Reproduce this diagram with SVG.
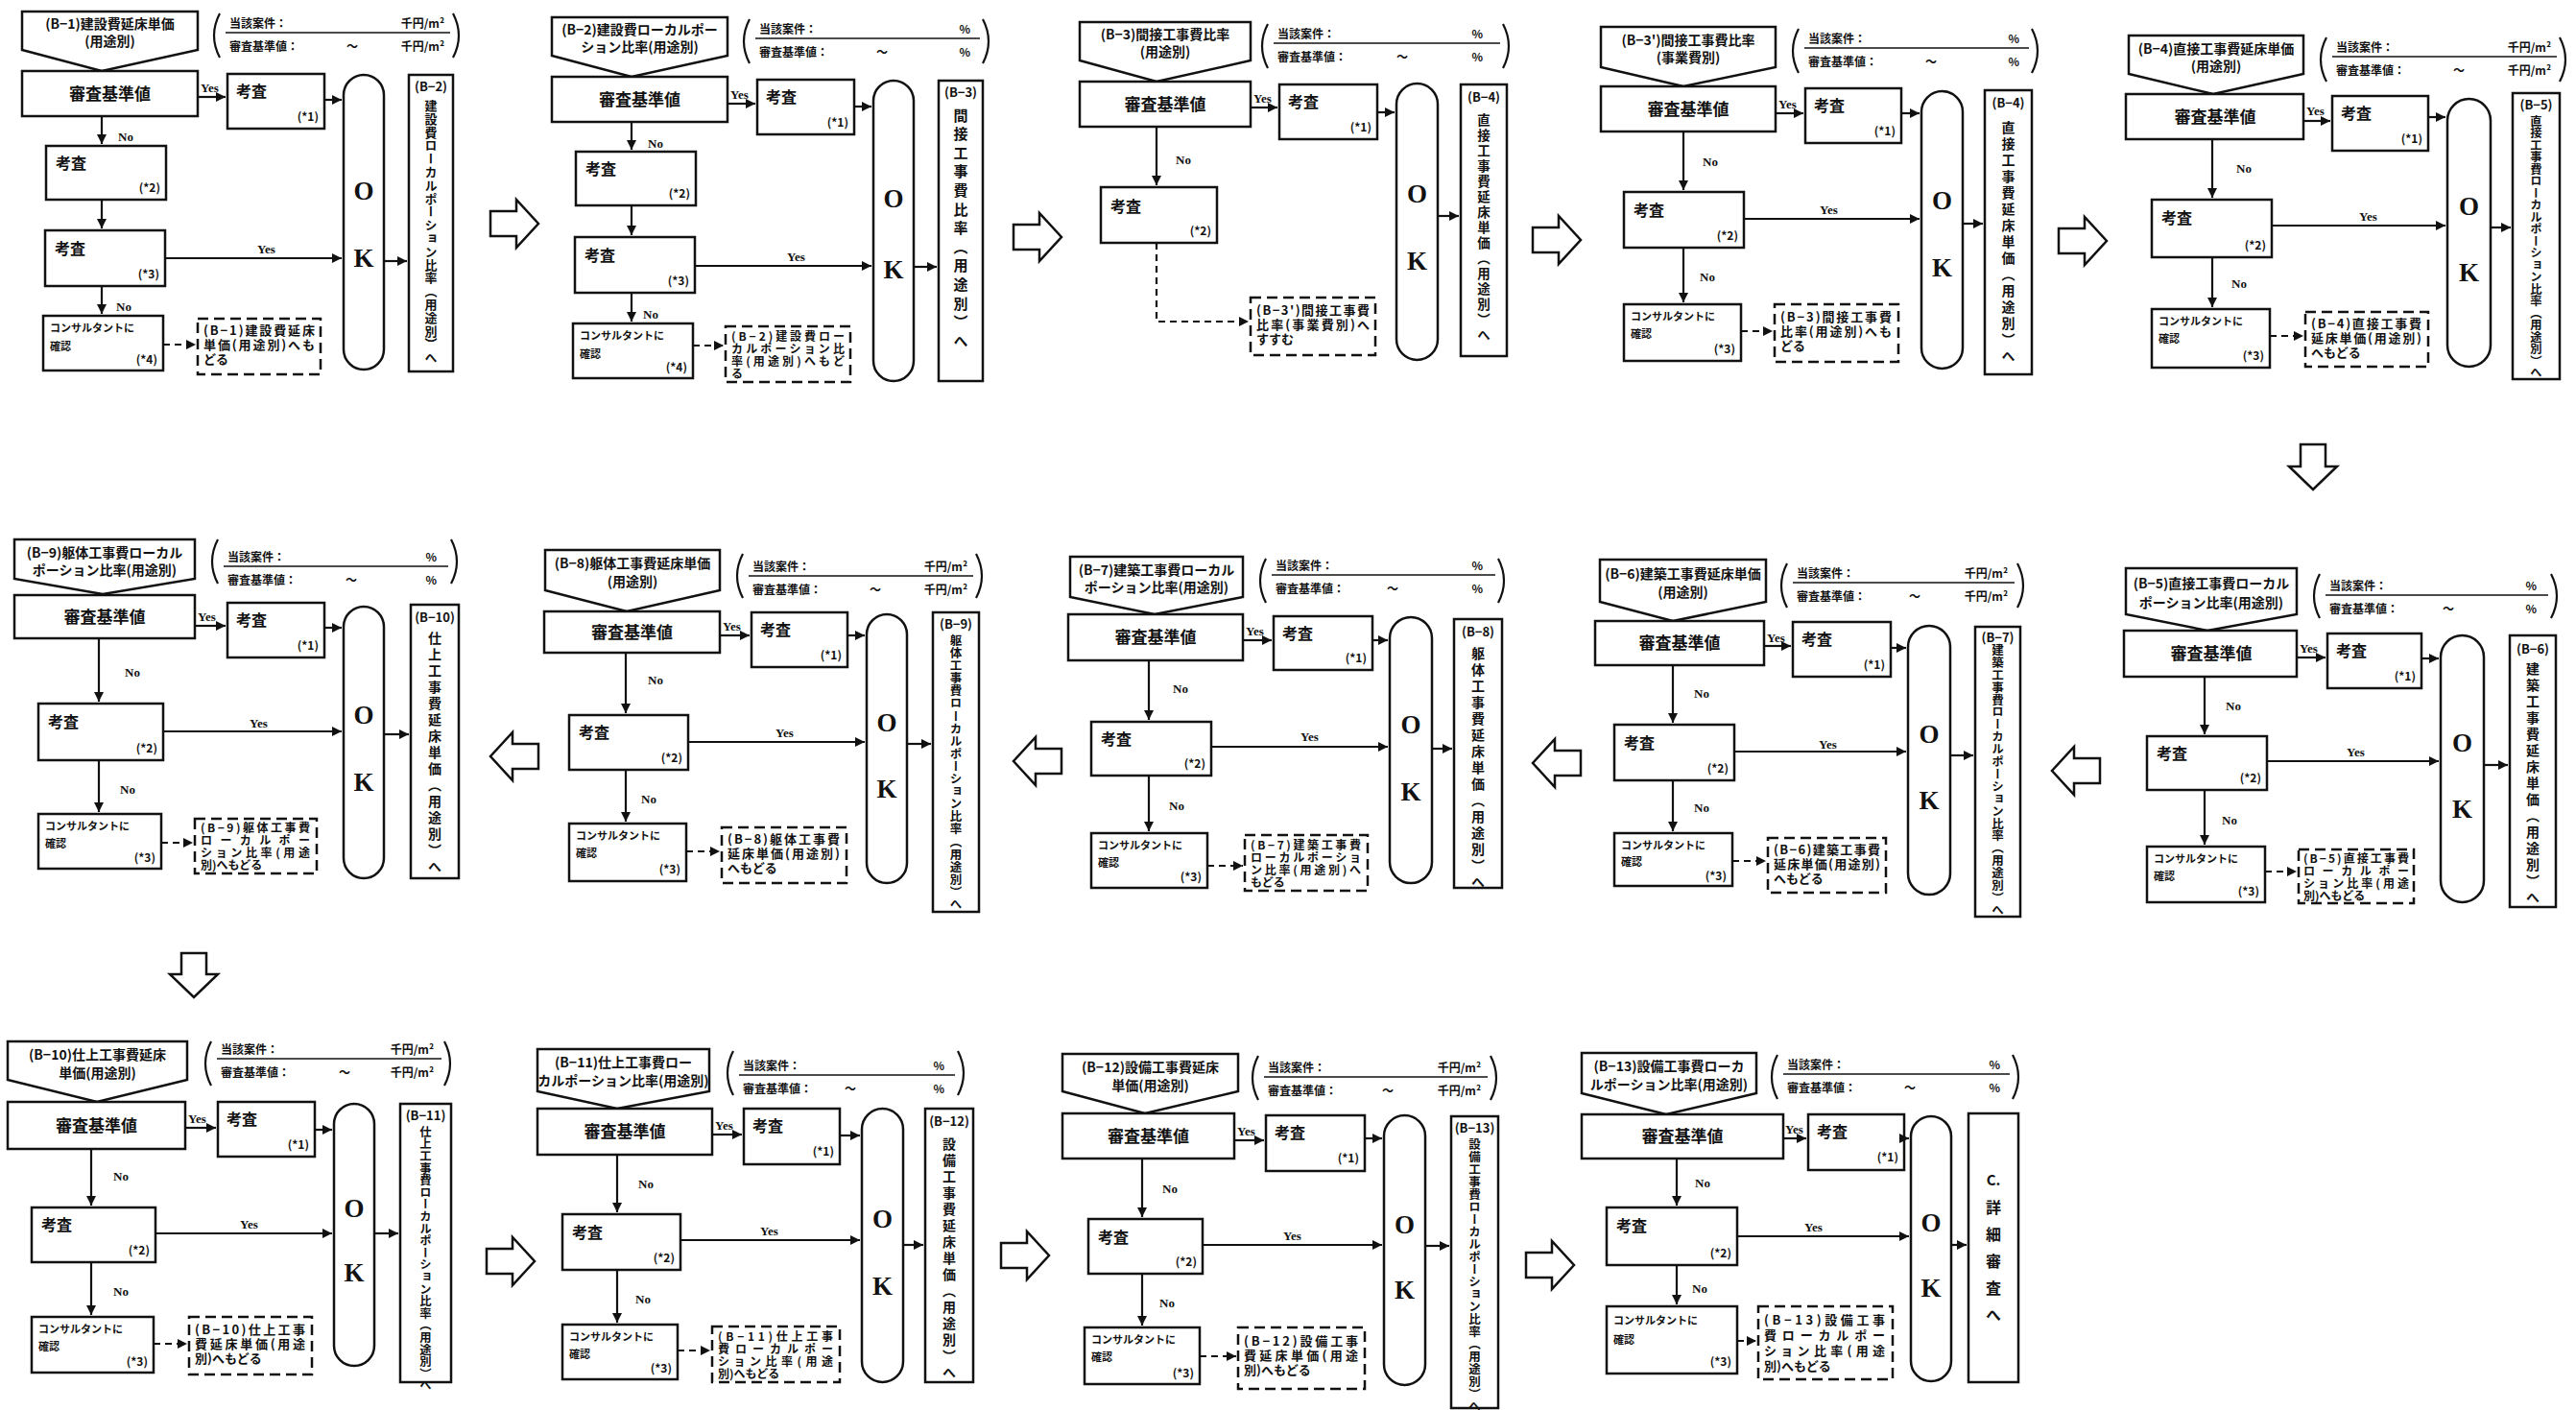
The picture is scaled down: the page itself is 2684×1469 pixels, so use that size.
<svg xmlns="http://www.w3.org/2000/svg" width="2684" height="1469" viewBox="0 0 2684 1469">
<defs>
<marker id="ah" viewBox="0 0 10 10" refX="10" refY="5" markerWidth="11" markerHeight="10" markerUnits="userSpaceOnUse" orient="auto"><path d="M0,0 L10,5 L0,10 z" fill="#111"/></marker>
<style>
.bx{fill:#fff;stroke:#111;stroke-width:2.5}
.dbx{fill:#fff;stroke:#111;stroke-width:2.5;stroke-dasharray:11 6}
.ln{fill:none;stroke:#111;stroke-width:2.2;marker-end:url(#ah)}
.dln{fill:none;stroke:#111;stroke-width:2.2;stroke-dasharray:7 5;marker-end:url(#ah)}
.br{fill:none;stroke:#111;stroke-width:2.2}
.rule{fill:none;stroke:#111;stroke-width:1.6}
.blk{fill:#fff;stroke:#111;stroke-width:2.5;stroke-linejoin:miter}
.t{font-family:"Noto Sans CJK JP","Noto Sans CJK SC",sans-serif;font-weight:700;fill:#111}
.hd{font-size:14px;text-anchor:middle}
.sv{font-size:17px;text-anchor:middle}
.kt{font-size:16px}
.nt{font-size:12px;text-anchor:end}
.ct{font-size:11px}
.rt{font-size:13px}
.rt4{font-size:12px}
.bt{font-size:12px}
.ue{text-anchor:end}
.lb{font-size:13px;text-anchor:middle}
.vt{writing-mode:vertical-rl}
.yn{font-family:"Liberation Serif",serif;font-weight:700;font-size:13px;fill:#111}
.ok{font-family:"Liberation Serif",serif;font-weight:700;font-size:27px;fill:#111;text-anchor:middle}
</style>
</defs>
<rect x="0" y="0" width="2684" height="1469" fill="#fff"/>

<!-- ===== Panel B-1 ===== -->
<g id="p1" transform="translate(23,12)">
 <g id="p1-header"><polygon class="bx" points="0,0 183,0 183,40 83,62 0,40"/><text class="t hd" x="91.5" y="18">(B−1)建設費延床単価</text><text class="t hd" x="91.5" y="36">(用途別)</text></g>
 <g id="p1-values"><path class="br" d="M206,2 Q194,25 206,48 M449,2 Q461,25 449,48"/><path class="rule" d="M212,22 H446"/><text class="t bt" x="216" y="17">当該案件：</text><text class="t bt ue" x="440" y="17">千円/m²</text><text class="t bt" x="216" y="41">審査基準値：</text><text class="t bt" x="338" y="41">～</text><text class="t bt ue" x="440" y="41">千円/m²</text></g>
 <g id="p1-criteria"><rect class="bx" x="0" y="62" width="183" height="47"/><text class="t sv" x="91.5" y="92">審査基準値</text></g>
 <g id="p1-k1"><rect class="bx" x="214" y="65" width="101" height="57"/><text class="t kt" x="223" y="89">考査</text><text class="t nt" x="309" y="114">(*1)</text></g>
 <g id="p1-ok"><rect class="bx" x="335" y="66" width="42" height="307" rx="21"/><text class="ok" x="356" y="196">O</text><text class="ok" x="356" y="266">K</text></g>
 <g id="p1-next"><rect class="bx" x="403" y="66" width="46" height="309"/><text class="t lb" x="426" y="83">(B−2)</text><text class="t vt" x="426" y="91.5" style="font-size:13px;letter-spacing:0.8px">建設費ローカルポーション比率（用途別）へ</text></g>
 <g id="p1-k2"><rect class="bx" x="25" y="140" width="125" height="56"/><text class="t kt" x="35" y="164">考査</text><text class="t nt" x="144" y="188">(*2)</text></g>
 <g id="p1-k3"><rect class="bx" x="24" y="228" width="125" height="58"/><text class="t kt" x="34" y="253">考査</text><text class="t nt" x="143" y="278">(*3)</text></g>
 <g id="p1-consult"><rect class="bx" x="22" y="317" width="125" height="57"/><text class="t ct" x="29" y="334">コンサルタントに</text><text class="t ct" x="29" y="353">確認</text><text class="t nt" x="141" y="367">(*4)</text></g>
 <g id="p1-return"><rect class="dbx" x="183" y="320" width="128" height="58"/><text class="t rt" x="189" y="337" textLength="116" lengthAdjust="spacing">(B−1)建設費延床</text><text class="t rt" x="189" y="352" textLength="116" lengthAdjust="spacing">単価(用途別)へも</text><text class="t rt" x="189" y="367">どる</text></g>
</g>

<!-- ===== Panel B-2 ===== -->
<g id="p2" transform="translate(575,18)">
 <g id="p2-header"><polygon class="bx" points="0,0 183,0 183,40 83,62 0,40"/><text class="t hd" x="91.5" y="18">(B−2)建設費ローカルポー</text><text class="t hd" x="91.5" y="36">ション比率(用途別)</text></g>
 <g id="p2-values"><path class="br" d="M206,2 Q194,25 206,48 M449,2 Q461,25 449,48"/><path class="rule" d="M212,22 H446"/><text class="t bt" x="216" y="17">当該案件：</text><text class="t bt ue" x="436" y="17">%</text><text class="t bt" x="216" y="41">審査基準値：</text><text class="t bt" x="338" y="41">～</text><text class="t bt ue" x="436" y="41">%</text></g>
 <g id="p2-criteria"><rect class="bx" x="0" y="62" width="183" height="47"/><text class="t sv" x="91.5" y="92">審査基準値</text></g>
 <g id="p2-k1"><rect class="bx" x="214" y="65" width="101" height="57"/><text class="t kt" x="223" y="89">考査</text><text class="t nt" x="309" y="114">(*1)</text></g>
 <g id="p2-ok"><rect class="bx" x="335" y="66" width="42" height="313" rx="21"/><text class="ok" x="356" y="198">O</text><text class="ok" x="356" y="272">K</text></g>
 <g id="p2-next"><rect class="bx" x="403" y="66" width="46" height="313"/><text class="t lb" x="426" y="83">(B−3)</text><text class="t vt" x="426" y="94.5" style="font-size:15px;letter-spacing:4.6px">間接工事費比率（用途別）へ</text></g>
 <g id="p2-k2"><rect class="bx" x="25" y="140" width="125" height="56"/><text class="t kt" x="35" y="164">考査</text><text class="t nt" x="144" y="188">(*2)</text></g>
 <g id="p2-k3"><rect class="bx" x="24" y="229" width="125" height="58"/><text class="t kt" x="34" y="254">考査</text><text class="t nt" x="143" y="279">(*3)</text></g>
 <g id="p2-consult"><rect class="bx" x="22" y="319" width="125" height="57"/><text class="t ct" x="29" y="336">コンサルタントに</text><text class="t ct" x="29" y="355">確認</text><text class="t nt" x="141" y="369">(*4)</text></g>
 <g id="p2-return"><rect class="dbx" x="181" y="322" width="130" height="58"/><text class="t rt4" x="187" y="337" textLength="118" lengthAdjust="spacing">(B−2)建設費ロー</text><text class="t rt4" x="187" y="350" textLength="118" lengthAdjust="spacing">カルポーション比</text><text class="t rt4" x="187" y="363" textLength="118" lengthAdjust="spacing">率(用途別)へもど</text><text class="t rt4" x="187" y="376">る</text></g>
</g>

<!-- ===== Panel B-3 ===== -->
<g id="p3" transform="translate(1125,23)">
 <g id="p3-header"><polygon class="bx" points="0,0 178,0 178,40 80,62 0,40"/><text class="t hd" x="89" y="18">(B−3)間接工事費比率</text><text class="t hd" x="89" y="36">(用途別)</text></g>
 <g id="p3-values"><path class="br" d="M196,2 Q184,25 196,48 M441,2 Q453,25 441,48"/><path class="rule" d="M202,22 H438"/><text class="t bt" x="206" y="17">当該案件：</text><text class="t bt ue" x="420" y="17">%</text><text class="t bt" x="206" y="41">審査基準値：</text><text class="t bt" x="330" y="41">～</text><text class="t bt ue" x="420" y="41">%</text></g>
 <g id="p3-criteria"><rect class="bx" x="0" y="62" width="178" height="47"/><text class="t sv" x="89" y="92">審査基準値</text></g>
 <g id="p3-k1"><rect class="bx" x="208" y="65" width="102" height="57"/><text class="t kt" x="217" y="89">考査</text><text class="t nt" x="304" y="114">(*1)</text></g>
 <g id="p3-ok"><rect class="bx" x="330" y="64" width="43" height="288" rx="21.5"/><text class="ok" x="351.5" y="188">O</text><text class="ok" x="351.5" y="258">K</text></g>
 <g id="p3-next"><rect class="bx" x="397" y="65" width="48" height="283"/><text class="t lb" x="421" y="83">(B−4)</text><text class="t vt" x="421" y="95" style="font-size:13.5px;letter-spacing:2.5px">直接工事費延床単価（用途別）へ</text></g>
 <g id="p3-k2"><rect class="bx" x="22" y="172" width="121" height="58"/><text class="t kt" x="32" y="198">考査</text><text class="t nt" x="137" y="222">(*2)</text></g>
 <g id="p3-return"><rect class="dbx" x="178" y="287" width="130" height="60"/><text class="t rt" x="184" y="305" textLength="118" lengthAdjust="spacing">(B−3')間接工事費</text><text class="t rt" x="184" y="320" textLength="118" lengthAdjust="spacing">比率(事業費別)へ</text><text class="t rt" x="184" y="335">すすむ</text></g>
</g>

<!-- ===== Panel B-3' ===== -->
<g id="p4" transform="translate(1668,28)">
 <g id="p4-header"><polygon class="bx" points="0,0 182,0 182,42 86,62 0,42"/><text class="t hd" x="91" y="19">(B−3')間接工事費比率</text><text class="t hd" x="91" y="37">(事業費別)</text></g>
 <g id="p4-values"><path class="br" d="M206,2 Q194,25 206,48 M449,2 Q461,25 449,48"/><path class="rule" d="M212,22 H446"/><text class="t bt" x="216" y="17">当該案件：</text><text class="t bt ue" x="436" y="17">%</text><text class="t bt" x="216" y="41">審査基準値：</text><text class="t bt" x="338" y="41">～</text><text class="t bt ue" x="436" y="41">%</text></g>
 <g id="p4-criteria"><rect class="bx" x="0" y="62" width="182" height="47"/><text class="t sv" x="91" y="92">審査基準値</text></g>
 <g id="p4-k1"><rect class="bx" x="213" y="64" width="100" height="57"/><text class="t kt" x="222" y="88">考査</text><text class="t nt" x="307" y="113">(*1)</text></g>
 <g id="p4-ok"><rect class="bx" x="334" y="67" width="43" height="289" rx="21.5"/><text class="ok" x="355.5" y="190">O</text><text class="ok" x="355.5" y="260">K</text></g>
 <g id="p4-next"><rect class="bx" x="400" y="66" width="49" height="296"/><text class="t lb" x="424.5" y="84">(B−4)</text><text class="t vt" x="424.5" y="98" style="font-size:14px;letter-spacing:3px">直接工事費延床単価（用途別）へ</text></g>
 <g id="p4-k2"><rect class="bx" x="24" y="172" width="125" height="58"/><text class="t kt" x="34" y="197">考査</text><text class="t nt" x="143" y="222">(*2)</text></g>
 <g id="p4-consult"><rect class="bx" x="24" y="289" width="122" height="59"/><text class="t ct" x="31" y="306">コンサルタントに</text><text class="t ct" x="31" y="324">確認</text><text class="t nt" x="140" y="340">(*3)</text></g>
 <g id="p4-return"><rect class="dbx" x="181" y="289" width="129" height="60"/><text class="t rt" x="187" y="307" textLength="116" lengthAdjust="spacing">(B−3)間接工事費</text><text class="t rt" x="187" y="322" textLength="116" lengthAdjust="spacing">比率(用途別)へも</text><text class="t rt" x="187" y="337">どる</text></g>
</g>

<!-- ===== Panel B-4 ===== -->
<g id="p5" transform="translate(2218,37)">
 <g id="p5-header"><polygon class="bx" points="0,0 182,0 182,40 88,61 0,40"/><text class="t hd" x="91" y="19">(B−4)直接工事費延床単価</text><text class="t hd" x="91" y="37">(用途別)</text></g>
 <g id="p5-values"><path class="br" d="M206,2 Q194,25 206,48 M449,2 Q461,25 449,48"/><path class="rule" d="M212,22 H446"/><text class="t bt" x="216" y="17">当該案件：</text><text class="t bt ue" x="440" y="17">千円/m²</text><text class="t bt" x="216" y="41">審査基準値：</text><text class="t bt" x="338" y="41">～</text><text class="t bt ue" x="440" y="41">千円/m²</text></g>
 <g id="p5-criteria"><rect class="bx" x="-3" y="61" width="185" height="47"/><text class="t sv" x="90" y="91">審査基準値</text></g>
 <g id="p5-k1"><rect class="bx" x="212" y="63" width="100" height="57"/><text class="t kt" x="221" y="87">考査</text><text class="t nt" x="306" y="112">(*1)</text></g>
 <g id="p5-ok"><rect class="bx" x="332" y="66" width="45" height="279" rx="22.5"/><text class="ok" x="354.5" y="187">O</text><text class="ok" x="354.5" y="256">K</text></g>
 <g id="p5-next"><rect class="bx" x="400" y="60" width="49" height="298"/><text class="t lb" x="424.5" y="77">(B−5)</text><text class="t vt" x="424.5" y="83" style="font-size:12.3px;letter-spacing:0.2px">直接工事費ローカルポーション比率（用途別）へ</text></g>
 <g id="p5-k2"><rect class="bx" x="24" y="171" width="125" height="60"/><text class="t kt" x="34" y="196">考査</text><text class="t nt" x="143" y="223">(*2)</text></g>
 <g id="p5-consult"><rect class="bx" x="24" y="285" width="123" height="61"/><text class="t ct" x="31" y="302">コンサルタントに</text><text class="t ct" x="31" y="320">確認</text><text class="t nt" x="141" y="338">(*3)</text></g>
 <g id="p5-return"><rect class="dbx" x="184" y="288" width="128" height="57"/><text class="t rt" x="190" y="305" textLength="115" lengthAdjust="spacing">(B−4)直接工事費</text><text class="t rt" x="190" y="320" textLength="115" lengthAdjust="spacing">延床単価(用途別)</text><text class="t rt" x="190" y="335">へもどる</text></g>
</g>

<!-- ===== Panel B-5 ===== -->
<g id="p6" transform="translate(2215,592)">
 <g id="p6-header"><polygon class="bx" points="0,0 178,0 178,48 85,65 0,48"/><text class="t hd" x="89" y="21">(B−5)直接工事費ローカル</text><text class="t hd" x="89" y="41">ポーション比率(用途別)</text></g>
 <g id="p6-values"><path class="br" d="M202,6 Q190,29 202,52 M443,6 Q455,29 443,52"/><path class="rule" d="M208,28 H440"/><text class="t bt" x="212" y="23">当該案件：</text><text class="t bt ue" x="428" y="23">%</text><text class="t bt" x="212" y="47">審査基準値：</text><text class="t bt" x="330" y="47">～</text><text class="t bt ue" x="428" y="47">%</text></g>
 <g id="p6-criteria"><rect class="bx" x="-2" y="65" width="180" height="48"/><text class="t sv" x="89" y="95">審査基準値</text></g>
 <g id="p6-k1"><rect class="bx" x="210" y="68" width="98" height="57"/><text class="t kt" x="219" y="92">考査</text><text class="t nt" x="302" y="117">(*1)</text></g>
 <g id="p6-ok"><rect class="bx" x="328" y="70" width="45" height="278" rx="22.5"/><text class="ok" x="350.5" y="191">O</text><text class="ok" x="350.5" y="260">K</text></g>
 <g id="p6-next"><rect class="bx" x="400" y="70" width="48" height="283"/><text class="t lb" x="424" y="89">(B−6)</text><text class="t vt" x="424" y="98" style="font-size:14px;letter-spacing:3px">建築工事費延床単価（用途別）へ</text></g>
 <g id="p6-k2"><rect class="bx" x="22" y="175" width="125" height="56"/><text class="t kt" x="32" y="199">考査</text><text class="t nt" x="141" y="223">(*2)</text></g>
 <g id="p6-consult"><rect class="bx" x="22" y="290" width="123" height="58"/><text class="t ct" x="29" y="307">コンサルタントに</text><text class="t ct" x="29" y="325">確認</text><text class="t nt" x="139" y="341">(*3)</text></g>
 <g id="p6-return"><rect class="dbx" x="180" y="293" width="120" height="56"/><text class="t rt4" x="185" y="307" textLength="110" lengthAdjust="spacing">(B−5)直接工事費</text><text class="t rt4" x="185" y="320" textLength="110" lengthAdjust="spacing">ローカルポー</text><text class="t rt4" x="185" y="333" textLength="110" lengthAdjust="spacing">ション比率(用途</text><text class="t rt4" x="185" y="346">別)へもどる</text></g>
</g>

<!-- ===== Panel B-6 ===== -->
<g id="p7" transform="translate(1667,583)">
 <g id="p7-header"><polygon class="bx" points="0,0 173,0 173,44 76,64 0,44"/><text class="t hd" x="86.5" y="20">(B−6)建築工事費延床単価</text><text class="t hd" x="86.5" y="39">(用途別)</text></g>
 <g id="p7-values"><path class="br" d="M195,4 Q183,27 195,50 M435,4 Q447,27 435,50"/><path class="rule" d="M201,24 H432"/><text class="t bt" x="205" y="19">当該案件：</text><text class="t bt ue" x="425" y="19">千円/m²</text><text class="t bt" x="205" y="43">審査基準値：</text><text class="t bt" x="322" y="43">～</text><text class="t bt ue" x="425" y="43">千円/m²</text></g>
 <g id="p7-criteria"><rect class="bx" x="-5" y="64" width="176" height="46"/><text class="t sv" x="83" y="93">審査基準値</text></g>
 <g id="p7-k1"><rect class="bx" x="201" y="65" width="102" height="57"/><text class="t kt" x="210" y="89">考査</text><text class="t nt" x="297" y="114">(*1)</text></g>
 <g id="p7-ok"><rect class="bx" x="321" y="69" width="44" height="280" rx="22"/><text class="ok" x="343" y="191">O</text><text class="ok" x="343" y="260">K</text></g>
 <g id="p7-next"><rect class="bx" x="391" y="70" width="47" height="302"/><text class="t lb" x="414.5" y="86">(B−7)</text><text class="t vt" x="414.5" y="88" style="font-size:12.5px;letter-spacing:0.4px">建築工事費ローカルポーション比率（用途別）へ</text></g>
 <g id="p7-k2"><rect class="bx" x="15" y="172" width="125" height="58"/><text class="t kt" x="25" y="197">考査</text><text class="t nt" x="134" y="222">(*2)</text></g>
 <g id="p7-consult"><rect class="bx" x="15" y="285" width="123" height="55"/><text class="t ct" x="22" y="302">コンサルタントに</text><text class="t ct" x="22" y="319">確認</text><text class="t nt" x="132" y="334">(*3)</text></g>
 <g id="p7-return"><rect class="dbx" x="175" y="290" width="123" height="57"/><text class="t rt" x="181" y="307" textLength="111" lengthAdjust="spacing">(B−6)建築工事費</text><text class="t rt" x="181" y="322" textLength="111" lengthAdjust="spacing">延床単価(用途別)</text><text class="t rt" x="181" y="337">へもどる</text></g>
</g>

<!-- ===== Panel B-7 ===== -->
<g id="p8" transform="translate(1115,580)">
 <g id="p8-header"><polygon class="bx" points="0,0 180,0 180,42 88,60 0,42"/><text class="t hd" x="90" y="19">(B−7)建築工事費ローカル</text><text class="t hd" x="90" y="37">ポーション比率(用途別)</text></g>
 <g id="p8-values"><path class="br" d="M204,2 Q192,25 204,48 M446,2 Q458,25 446,48"/><path class="rule" d="M210,19 H443"/><text class="t bt" x="214" y="14">当該案件：</text><text class="t bt ue" x="430" y="14">%</text><text class="t bt" x="214" y="38">審査基準値：</text><text class="t bt" x="330" y="38">～</text><text class="t bt ue" x="430" y="38">%</text></g>
 <g id="p8-criteria"><rect class="bx" x="-2" y="60" width="182" height="48"/><text class="t sv" x="89" y="90">審査基準値</text></g>
 <g id="p8-k1"><rect class="bx" x="212" y="62" width="103" height="56"/><text class="t kt" x="221" y="86">考査</text><text class="t nt" x="309" y="110">(*1)</text></g>
 <g id="p8-ok"><rect class="bx" x="333" y="63" width="44" height="277" rx="22"/><text class="ok" x="355" y="184">O</text><text class="ok" x="355" y="254">K</text></g>
 <g id="p8-next"><rect class="bx" x="400" y="65" width="50" height="280"/><text class="t lb" x="425" y="83">(B−8)</text><text class="t vt" x="425" y="94" style="font-size:14px;letter-spacing:3px">躯体工事費延床単価（用途別）へ</text></g>
 <g id="p8-k2"><rect class="bx" x="22" y="172" width="125" height="56"/><text class="t kt" x="32" y="196">考査</text><text class="t nt" x="141" y="220">(*2)</text></g>
 <g id="p8-consult"><rect class="bx" x="22" y="288" width="121" height="57"/><text class="t ct" x="29" y="305">コンサルタントに</text><text class="t ct" x="29" y="323">確認</text><text class="t nt" x="137" y="338">(*3)</text></g>
 <g id="p8-return"><rect class="dbx" x="182" y="290" width="128" height="58"/><text class="t rt4" x="188" y="305" textLength="115" lengthAdjust="spacing">(B−7)建築工事費</text><text class="t rt4" x="188" y="318" textLength="115" lengthAdjust="spacing">ローカルポーショ</text><text class="t rt4" x="188" y="331" textLength="115" lengthAdjust="spacing">ン比率(用途別)へ</text><text class="t rt4" x="188" y="344">もどる</text></g>
</g>

<!-- ===== Panel B-8 ===== -->
<g id="p9" transform="translate(568,573)">
 <g id="p9-header"><polygon class="bx" points="0,0 182,0 182,42 85,64 0,42"/><text class="t hd" x="91" y="19">(B−8)躯体工事費延床単価</text><text class="t hd" x="91" y="38">(用途別)</text></g>
 <g id="p9-values"><path class="br" d="M206,4 Q194,27 206,50 M449,4 Q461,27 449,50"/><path class="rule" d="M212,27 H446"/><text class="t bt" x="216" y="22">当該案件：</text><text class="t bt ue" x="440" y="22">千円/m²</text><text class="t bt" x="216" y="46">審査基準値：</text><text class="t bt" x="338" y="46">～</text><text class="t bt ue" x="440" y="46">千円/m²</text></g>
 <g id="p9-criteria"><rect class="bx" x="-1" y="64" width="183" height="43"/><text class="t sv" x="90.5" y="92">審査基準値</text></g>
 <g id="p9-k1"><rect class="bx" x="215" y="65" width="100" height="57"/><text class="t kt" x="224" y="89">考査</text><text class="t nt" x="309" y="114">(*1)</text></g>
 <g id="p9-ok"><rect class="bx" x="335" y="67" width="42" height="280" rx="21"/><text class="ok" x="356" y="189">O</text><text class="ok" x="356" y="258">K</text></g>
 <g id="p9-next"><rect class="bx" x="404" y="65" width="48" height="312"/><text class="t lb" x="428" y="82">(B−9)</text><text class="t vt" x="428" y="88" style="font-size:12.5px;letter-spacing:0.6px">躯体工事費ローカルポーション比率（用途別）へ</text></g>
 <g id="p9-k2"><rect class="bx" x="25" y="172" width="124" height="57"/><text class="t kt" x="35" y="196">考査</text><text class="t nt" x="143" y="221">(*2)</text></g>
 <g id="p9-consult"><rect class="bx" x="25" y="285" width="122" height="60"/><text class="t ct" x="32" y="302">コンサルタントに</text><text class="t ct" x="32" y="320">確認</text><text class="t nt" x="141" y="337">(*3)</text></g>
 <g id="p9-return"><rect class="dbx" x="184" y="289" width="130" height="58"/><text class="t rt" x="190" y="306" textLength="117" lengthAdjust="spacing">(B−8)躯体工事費</text><text class="t rt" x="190" y="321" textLength="117" lengthAdjust="spacing">延床単価(用途別)</text><text class="t rt" x="190" y="336">へもどる</text></g>
</g>

<!-- ===== Panel B-9 ===== -->
<g id="p10" transform="translate(15,562)">
 <g id="p10-header"><polygon class="bx" points="0,0 188,0 188,41 92,57 0,41"/><text class="t hd" x="94" y="19">(B−9)躯体工事費ローカル</text><text class="t hd" x="94" y="37">ポーション比率(用途別)</text></g>
 <g id="p10-values"><path class="br" d="M212,0 Q200,23 212,46 M455,0 Q467,23 455,46"/><path class="rule" d="M218,28 H452"/><text class="t bt" x="222" y="23">当該案件：</text><text class="t bt ue" x="440" y="23">%</text><text class="t bt" x="222" y="47">審査基準値：</text><text class="t bt" x="345" y="47">～</text><text class="t bt ue" x="440" y="47">%</text></g>
 <g id="p10-criteria"><rect class="bx" x="0" y="58" width="188" height="45"/><text class="t sv" x="94" y="87">審査基準値</text></g>
 <g id="p10-k1"><rect class="bx" x="222" y="66" width="101" height="57"/><text class="t kt" x="231" y="90">考査</text><text class="t nt" x="317" y="115">(*1)</text></g>
 <g id="p10-ok"><rect class="bx" x="343" y="70" width="42" height="283" rx="21"/><text class="ok" x="364" y="192">O</text><text class="ok" x="364" y="262">K</text></g>
 <g id="p10-next"><rect class="bx" x="413" y="68" width="50" height="285"/><text class="t lb" x="438" y="86">(B−10)</text><text class="t vt" x="438" y="96" style="font-size:14px;letter-spacing:3px">仕上工事費延床単価（用途別）へ</text></g>
 <g id="p10-k2"><rect class="bx" x="25" y="171" width="130" height="59"/><text class="t kt" x="35" y="196">考査</text><text class="t nt" x="149" y="222">(*2)</text></g>
 <g id="p10-consult"><rect class="bx" x="25" y="286" width="128" height="57"/><text class="t ct" x="32" y="303">コンサルタントに</text><text class="t ct" x="32" y="321">確認</text><text class="t nt" x="147" y="336">(*3)</text></g>
 <g id="p10-return"><rect class="dbx" x="188" y="291" width="127" height="57"/><text class="t rt4" x="194" y="305" textLength="114" lengthAdjust="spacing">(B−9)躯体工事費</text><text class="t rt4" x="194" y="318" textLength="114" lengthAdjust="spacing">ローカルポー</text><text class="t rt4" x="194" y="331" textLength="114" lengthAdjust="spacing">ション比率(用途</text><text class="t rt4" x="194" y="344">別)へもどる</text></g>
</g>

<!-- ===== Panel B-10 ===== -->
<g id="p11" transform="translate(8,1085)">
 <g id="p11-header"><polygon class="bx" points="0,0 187,0 187,40 93,63 0,40"/><text class="t hd" x="93.5" y="19">(B−10)仕上工事費延床</text><text class="t hd" x="93.5" y="38">単価(用途別)</text></g>
 <g id="p11-values"><path class="br" d="M212,0 Q200,23 212,46 M455,0 Q467,23 455,46"/><path class="rule" d="M218,18 H452"/><text class="t bt" x="222" y="13">当該案件：</text><text class="t bt ue" x="444" y="13">千円/m²</text><text class="t bt" x="222" y="37">審査基準値：</text><text class="t bt" x="345" y="37">～</text><text class="t bt ue" x="444" y="37">千円/m²</text></g>
 <g id="p11-criteria"><rect class="bx" x="0" y="63" width="185" height="49"/><text class="t sv" x="92.5" y="94">審査基準値</text></g>
 <g id="p11-k1"><rect class="bx" x="219" y="63" width="101" height="57"/><text class="t kt" x="228" y="87">考査</text><text class="t nt" x="314" y="112">(*1)</text></g>
 <g id="p11-ok"><rect class="bx" x="340" y="65" width="42" height="273" rx="21"/><text class="ok" x="361" y="183">O</text><text class="ok" x="361" y="250">K</text></g>
 <g id="p11-next"><rect class="bx" x="409" y="65" width="53" height="290"/><text class="t lb" x="435.5" y="82">(B−11)</text><text class="t vt" x="435.5" y="88" style="font-size:12.3px;letter-spacing:0.3px">仕上工事費ローカルポーション比率（用途別）へ</text></g>
 <g id="p11-k2"><rect class="bx" x="25" y="173" width="129" height="57"/><text class="t kt" x="35" y="197">考査</text><text class="t nt" x="148" y="222">(*2)</text></g>
 <g id="p11-consult"><rect class="bx" x="25" y="287" width="127" height="58"/><text class="t ct" x="32" y="304">コンサルタントに</text><text class="t ct" x="32" y="322">確認</text><text class="t nt" x="146" y="338">(*3)</text></g>
 <g id="p11-return"><rect class="dbx" x="189" y="287" width="128" height="60"/><text class="t rt" x="195" y="305" textLength="115" lengthAdjust="spacing">(B−10)仕上工事</text><text class="t rt" x="195" y="320" textLength="115" lengthAdjust="spacing">費延床単価(用途</text><text class="t rt" x="195" y="335">別)へもどる</text></g>
</g>

<!-- ===== Panel B-11 ===== -->
<g id="p12" transform="translate(560,1093)">
 <g id="p12-header"><polygon class="bx" points="0,0 179,0 179,44 83,62 0,44"/><text class="t hd" x="89.5" y="19">(B−11)仕上工事費ロー</text><text class="t hd" x="89.5" y="38">カルポーション比率(用途別)</text></g>
 <g id="p12-values"><path class="br" d="M204,2 Q192,25 204,48 M438,2 Q450,25 438,48"/><path class="rule" d="M210,27 H435"/><text class="t bt" x="214" y="22">当該案件：</text><text class="t bt ue" x="424" y="22">%</text><text class="t bt" x="214" y="46">審査基準値：</text><text class="t bt" x="320" y="46">～</text><text class="t bt ue" x="424" y="46">%</text></g>
 <g id="p12-criteria"><rect class="bx" x="0" y="62" width="182" height="48"/><text class="t sv" x="91" y="92">審査基準値</text></g>
 <g id="p12-k1"><rect class="bx" x="215" y="62" width="100" height="58"/><text class="t kt" x="224" y="86">考査</text><text class="t nt" x="309" y="111">(*1)</text></g>
 <g id="p12-ok"><rect class="bx" x="338" y="62" width="43" height="285" rx="21.5"/><text class="ok" x="359.5" y="186">O</text><text class="ok" x="359.5" y="256">K</text></g>
 <g id="p12-next"><rect class="bx" x="404" y="62" width="50" height="285"/><text class="t lb" x="429" y="80">(B−12)</text><text class="t vt" x="429" y="92" style="font-size:14px;letter-spacing:3px">設備工事費延床単価（用途別）へ</text></g>
 <g id="p12-k2"><rect class="bx" x="26" y="172" width="123" height="58"/><text class="t kt" x="36" y="197">考査</text><text class="t nt" x="143" y="222">(*2)</text></g>
 <g id="p12-consult"><rect class="bx" x="26" y="287" width="120" height="57"/><text class="t ct" x="33" y="304">コンサルタントに</text><text class="t ct" x="33" y="322">確認</text><text class="t nt" x="140" y="337">(*3)</text></g>
 <g id="p12-return"><rect class="dbx" x="182" y="289" width="133" height="58"/><text class="t rt4" x="188" y="304" textLength="120" lengthAdjust="spacing">(B−11)仕上工事</text><text class="t rt4" x="188" y="317" textLength="120" lengthAdjust="spacing">費ローカルポー</text><text class="t rt4" x="188" y="330" textLength="120" lengthAdjust="spacing">ション比率(用途</text><text class="t rt4" x="188" y="343">別)へもどる</text></g>
</g>

<!-- ===== Panel B-12 ===== -->
<g id="p13" transform="translate(1107,1098)">
 <g id="p13-header"><polygon class="bx" points="0,0 183,0 183,39 86,62 0,39"/><text class="t hd" x="91.5" y="19">(B−12)設備工事費延床</text><text class="t hd" x="91.5" y="38">単価(用途別)</text></g>
 <g id="p13-values"><path class="br" d="M204,2 Q192,25 204,48 M446,2 Q458,25 446,48"/><path class="rule" d="M210,24 H443"/><text class="t bt" x="214" y="19">当該案件：</text><text class="t bt ue" x="436" y="19">千円/m²</text><text class="t bt" x="214" y="43">審査基準値：</text><text class="t bt" x="333" y="43">～</text><text class="t bt ue" x="436" y="43">千円/m²</text></g>
 <g id="p13-criteria"><rect class="bx" x="0" y="62" width="179" height="47"/><text class="t sv" x="89.5" y="92">審査基準値</text></g>
 <g id="p13-k1"><rect class="bx" x="212" y="64" width="103" height="58"/><text class="t kt" x="221" y="88">考査</text><text class="t nt" x="309" y="113">(*1)</text></g>
 <g id="p13-ok"><rect class="bx" x="335" y="64" width="43" height="281" rx="21.5"/><text class="ok" x="356.5" y="187">O</text><text class="ok" x="356.5" y="255">K</text></g>
 <g id="p13-next"><rect class="bx" x="405" y="65" width="49" height="304"/><text class="t lb" x="429.5" y="82">(B−13)</text><text class="t vt" x="429.5" y="88" style="font-size:12.5px;letter-spacing:0.5px">設備工事費ローカルポーション比率（用途別）へ</text></g>
 <g id="p13-k2"><rect class="bx" x="27" y="172" width="119" height="57"/><text class="t kt" x="37" y="197">考査</text><text class="t nt" x="140" y="221">(*2)</text></g>
 <g id="p13-consult"><rect class="bx" x="23" y="285" width="120" height="59"/><text class="t ct" x="30" y="302">コンサルタントに</text><text class="t ct" x="30" y="320">確認</text><text class="t nt" x="137" y="337">(*3)</text></g>
 <g id="p13-return"><rect class="dbx" x="183" y="285" width="132" height="64"/><text class="t rt" x="189" y="304" textLength="119" lengthAdjust="spacing">(B−12)設備工事</text><text class="t rt" x="189" y="319" textLength="119" lengthAdjust="spacing">費延床単価(用途</text><text class="t rt" x="189" y="334">別)へもどる</text></g>
</g>

<!-- ===== Panel B-13 ===== -->
<g id="p14" transform="translate(1648,1097)">
 <g id="p14-header"><polygon class="bx" points="0,0 182,0 182,42 88,64 0,42"/><text class="t hd" x="91" y="19">(B−13)設備工事費ローカ</text><text class="t hd" x="91" y="38">ルポーション比率(用途別)</text></g>
 <g id="p14-values"><path class="br" d="M204,2 Q192,25 204,48 M449,2 Q461,25 449,48"/><path class="rule" d="M210,22 H446"/><text class="t bt" x="214" y="17">当該案件：</text><text class="t bt ue" x="436" y="17">%</text><text class="t bt" x="214" y="41">審査基準値：</text><text class="t bt" x="336" y="41">～</text><text class="t bt ue" x="436" y="41">%</text></g>
 <g id="p14-criteria"><rect class="bx" x="0" y="64" width="210" height="46"/><text class="t sv" x="105" y="93">審査基準値</text></g>
 <g id="p14-k1"><rect class="bx" x="236" y="64" width="100" height="58"/><text class="t kt" x="245" y="88">考査</text><text class="t nt" x="330" y="113">(*1)</text></g>
 <g id="p14-ok"><rect class="bx" x="343" y="66" width="42" height="276" rx="21"/><text class="ok" x="364" y="186">O</text><text class="ok" x="364" y="254">K</text></g>
 <g id="p14-next"><rect class="bx" x="403" y="63" width="52" height="280"/><text class="t lb" x="429" y="138" style="font-size:15px">C.</text><text class="t vt" x="429" y="153" style="font-size:16px;letter-spacing:12px">詳細審査へ</text></g>
 <g id="p14-k2"><rect class="bx" x="26" y="161" width="136" height="60"/><text class="t kt" x="36" y="186">考査</text><text class="t nt" x="156" y="213">(*2)</text></g>
 <g id="p14-consult"><rect class="bx" x="26" y="264" width="136" height="70"/><text class="t ct" x="33" y="283">コンサルタントに</text><text class="t ct" x="33" y="303">確認</text><text class="t nt" x="156" y="326">(*3)</text></g>
 <g id="p14-return"><rect class="dbx" x="184" y="264" width="140" height="76"/><text class="t rt" x="190" y="283" textLength="126" lengthAdjust="spacing">(B−13)設備工事</text><text class="t rt" x="190" y="299" textLength="126" lengthAdjust="spacing">費ローカルポー</text><text class="t rt" x="190" y="315" textLength="126" lengthAdjust="spacing">ション比率(用途</text><text class="t rt" x="190" y="331">別)へもどる</text></g>
</g>

<!-- ===== Connectors ===== -->
<g id="connectors">
 <g id="p1-edges" transform="translate(23,12)"><path class="ln" d="M183,89 H212"/><path class="ln" d="M315,92 H333"/><path class="ln" d="M83,109 V138"/><path class="ln" d="M83,196 V226"/><path class="ln" d="M149,257 H333"/><path class="ln" d="M83,286 V315"/><path class="ln" d="M377,260 H401"/><path class="dln" d="M147,347 H181"/><text class="yn" x="186" y="84">Yes</text><text class="yn" x="100" y="135">No</text><text class="yn" x="245" y="252">Yes</text><text class="yn" x="98" y="312">No</text></g>
 <g id="p2-edges" transform="translate(575,18)"><path class="ln" d="M183,90 H212"/><path class="ln" d="M315,93 H333"/><path class="ln" d="M83,109 V138"/><path class="ln" d="M83,196 V227"/><path class="ln" d="M149,259 H333"/><path class="ln" d="M83,287 V317"/><path class="ln" d="M377,260 H401"/><path class="dln" d="M147,342 H179"/><text class="yn" x="186" y="85">Yes</text><text class="yn" x="100" y="136">No</text><text class="yn" x="245" y="254">Yes</text><text class="yn" x="95" y="314">No</text></g>
 <g id="p3-edges" transform="translate(1125,23)"><path class="ln" d="M178,89 H206"/><path class="ln" d="M310,94 H328"/><path class="ln" d="M80,109 V170"/><path class="dln" d="M80,230 V312 H176"/><path class="ln" d="M373,202 H395"/><text class="yn" x="181" y="84">Yes</text><text class="yn" x="100" y="148">No</text></g>
 <g id="p4-edges" transform="translate(1668,28)"><path class="ln" d="M182,90 H211"/><path class="ln" d="M313,90 H332"/><path class="ln" d="M86,109 V170"/><path class="ln" d="M149,200 H332"/><path class="ln" d="M86,230 V287"/><path class="ln" d="M377,205 H398"/><path class="dln" d="M146,317 H179"/><text class="yn" x="185" y="85">Yes</text><text class="yn" x="106" y="145">No</text><text class="yn" x="228" y="195">Yes</text><text class="yn" x="103" y="265">No</text></g>
 <g id="p5-edges" transform="translate(2218,37)"><path class="ln" d="M182,89 H210"/><path class="ln" d="M312,85 H330"/><path class="ln" d="M87,108 V169"/><path class="ln" d="M149,198 H330"/><path class="ln" d="M87,231 V283"/><path class="ln" d="M377,200 H398"/><path class="dln" d="M147,313 H182"/><text class="yn" x="185" y="83">Yes</text><text class="yn" x="112" y="143">No</text><text class="yn" x="240" y="193">Yes</text><text class="yn" x="107" y="263">No</text></g>
 <g id="p6-edges" transform="translate(2215,592)"><path class="ln" d="M178,93 H208"/><path class="ln" d="M308,94 H326"/><path class="ln" d="M82,113 V173"/><path class="ln" d="M147,201 H326"/><path class="ln" d="M82,231 V288"/><path class="ln" d="M373,205 H398"/><path class="dln" d="M145,316 H178"/><text class="yn" x="181" y="88">Yes</text><text class="yn" x="104" y="148">No</text><text class="yn" x="230" y="196">Yes</text><text class="yn" x="100" y="267">No</text></g>
 <g id="p7-edges" transform="translate(1667,583)"><path class="ln" d="M171,90 H199"/><path class="ln" d="M303,92 H319"/><path class="ln" d="M76,110 V170"/><path class="ln" d="M140,200 H319"/><path class="ln" d="M76,230 V283"/><path class="ln" d="M365,204 H389"/><path class="dln" d="M138,314 H173"/><text class="yn" x="174" y="86">Yes</text><text class="yn" x="98" y="144">No</text><text class="yn" x="228" y="197">Yes</text><text class="yn" x="98" y="263">No</text></g>
 <g id="p8-edges" transform="translate(1115,580)"><path class="ln" d="M180,87 H210"/><path class="ln" d="M315,87 H331"/><path class="ln" d="M82,108 V170"/><path class="ln" d="M147,198 H331"/><path class="ln" d="M82,228 V286"/><path class="ln" d="M377,200 H398"/><path class="dln" d="M143,322 H180"/><text class="yn" x="183" y="82">Yes</text><text class="yn" x="107" y="142">No</text><text class="yn" x="240" y="192">Yes</text><text class="yn" x="103" y="264">No</text></g>
 <g id="p9-edges" transform="translate(568,573)"><path class="ln" d="M182,89 H213"/><path class="ln" d="M315,89 H333"/><path class="ln" d="M84,107 V170"/><path class="ln" d="M149,200 H333"/><path class="ln" d="M84,229 V283"/><path class="ln" d="M377,202 H402"/><path class="dln" d="M147,314 H182"/><text class="yn" x="185" y="84">Yes</text><text class="yn" x="107" y="140">No</text><text class="yn" x="240" y="195">Yes</text><text class="yn" x="100" y="264">No</text></g>
 <g id="p10-edges" transform="translate(15,562)"><path class="ln" d="M188,90 H220"/><path class="ln" d="M323,92 H341"/><path class="ln" d="M88,103 V169"/><path class="ln" d="M155,200 H341"/><path class="ln" d="M88,230 V284"/><path class="ln" d="M385,203 H411"/><path class="dln" d="M153,316 H186"/><text class="yn" x="191" y="85">Yes</text><text class="yn" x="115" y="143">No</text><text class="yn" x="245" y="196">Yes</text><text class="yn" x="110" y="265">No</text></g>
 <g id="p11-edges" transform="translate(8,1085)"><path class="ln" d="M185,90 H217"/><path class="ln" d="M320,92 H338"/><path class="ln" d="M87,112 V171"/><path class="ln" d="M154,200 H338"/><path class="ln" d="M87,230 V285"/><path class="ln" d="M382,200 H407"/><path class="dln" d="M152,315 H187"/><text class="yn" x="188" y="85">Yes</text><text class="yn" x="110" y="145">No</text><text class="yn" x="242" y="195">Yes</text><text class="yn" x="110" y="265">No</text></g>
 <g id="p12-edges" transform="translate(560,1093)"><path class="ln" d="M182,89 H213"/><path class="ln" d="M315,90 H336"/><path class="ln" d="M83,110 V170"/><path class="ln" d="M149,199 H336"/><path class="ln" d="M83,230 V285"/><path class="ln" d="M381,204 H402"/><path class="dln" d="M146,314 H180"/><text class="yn" x="185" y="84">Yes</text><text class="yn" x="105" y="145">No</text><text class="yn" x="232" y="194">Yes</text><text class="yn" x="102" y="265">No</text></g>
 <g id="p13-edges" transform="translate(1107,1098)"><path class="ln" d="M179,90 H210"/><path class="ln" d="M315,88 H333"/><path class="ln" d="M83,109 V170"/><path class="ln" d="M146,199 H333"/><path class="ln" d="M83,229 V283"/><path class="ln" d="M378,200 H403"/><path class="dln" d="M143,315 H181"/><text class="yn" x="182" y="85">Yes</text><text class="yn" x="104" y="145">No</text><text class="yn" x="230" y="194">Yes</text><text class="yn" x="101" y="264">No</text></g>
 <g id="p14-edges" transform="translate(1648,1097)"><path class="ln" d="M210,89 H234"/><path class="ln" d="M336,89 H341"/><path class="ln" d="M99,110 V159"/><path class="ln" d="M162,191 H341"/><path class="ln" d="M99,221 V262"/><path class="ln" d="M385,200 H401"/><path class="dln" d="M162,300 H182"/><text class="yn" x="212" y="84">Yes</text><text class="yn" x="118" y="140">No</text><text class="yn" x="232" y="186">Yes</text><text class="yn" x="115" y="250">No</text></g>
 <g id="flow-arrows">
  <polygon class="blk" points="511,220 538,220 538,208 561,233 538,258 538,246 511,246"/>
  <polygon class="blk" points="1056,234 1083,234 1083,222 1106,247 1083,272 1083,260 1056,260"/>
  <polygon class="blk" points="1597,237 1624,237 1624,225 1647,250 1624,275 1624,263 1597,263"/>
  <polygon class="blk" points="2145,238 2172,238 2172,226 2195,251 2172,276 2172,264 2145,264"/>
  <polygon class="blk" points="2397,463 2423,463 2423,486 2435,486 2410,510 2385,486 2397,486"/>
  <polygon class="blk" points="2188,790 2161,790 2161,778 2138,803 2161,828 2161,816 2188,816"/>
  <polygon class="blk" points="1647,782 1620,782 1620,770 1597,795 1620,820 1620,808 1647,808"/>
  <polygon class="blk" points="1106,780 1079,780 1079,768 1056,793 1079,818 1079,806 1106,806"/>
  <polygon class="blk" points="561,775 534,775 534,763 511,788 534,813 534,801 561,801"/>
  <polygon class="blk" points="189,993 215,993 215,1015 227,1015 202,1039 177,1015 189,1015"/>
  <polygon class="blk" points="507,1301 534,1301 534,1289 557,1314 534,1339 534,1327 507,1327"/>
  <polygon class="blk" points="1043,1295 1070,1295 1070,1283 1093,1308 1070,1333 1070,1321 1043,1321"/>
  <polygon class="blk" points="1590,1305 1617,1305 1617,1293 1640,1318 1617,1343 1617,1331 1590,1331"/>
 </g>
</g>
</svg>
